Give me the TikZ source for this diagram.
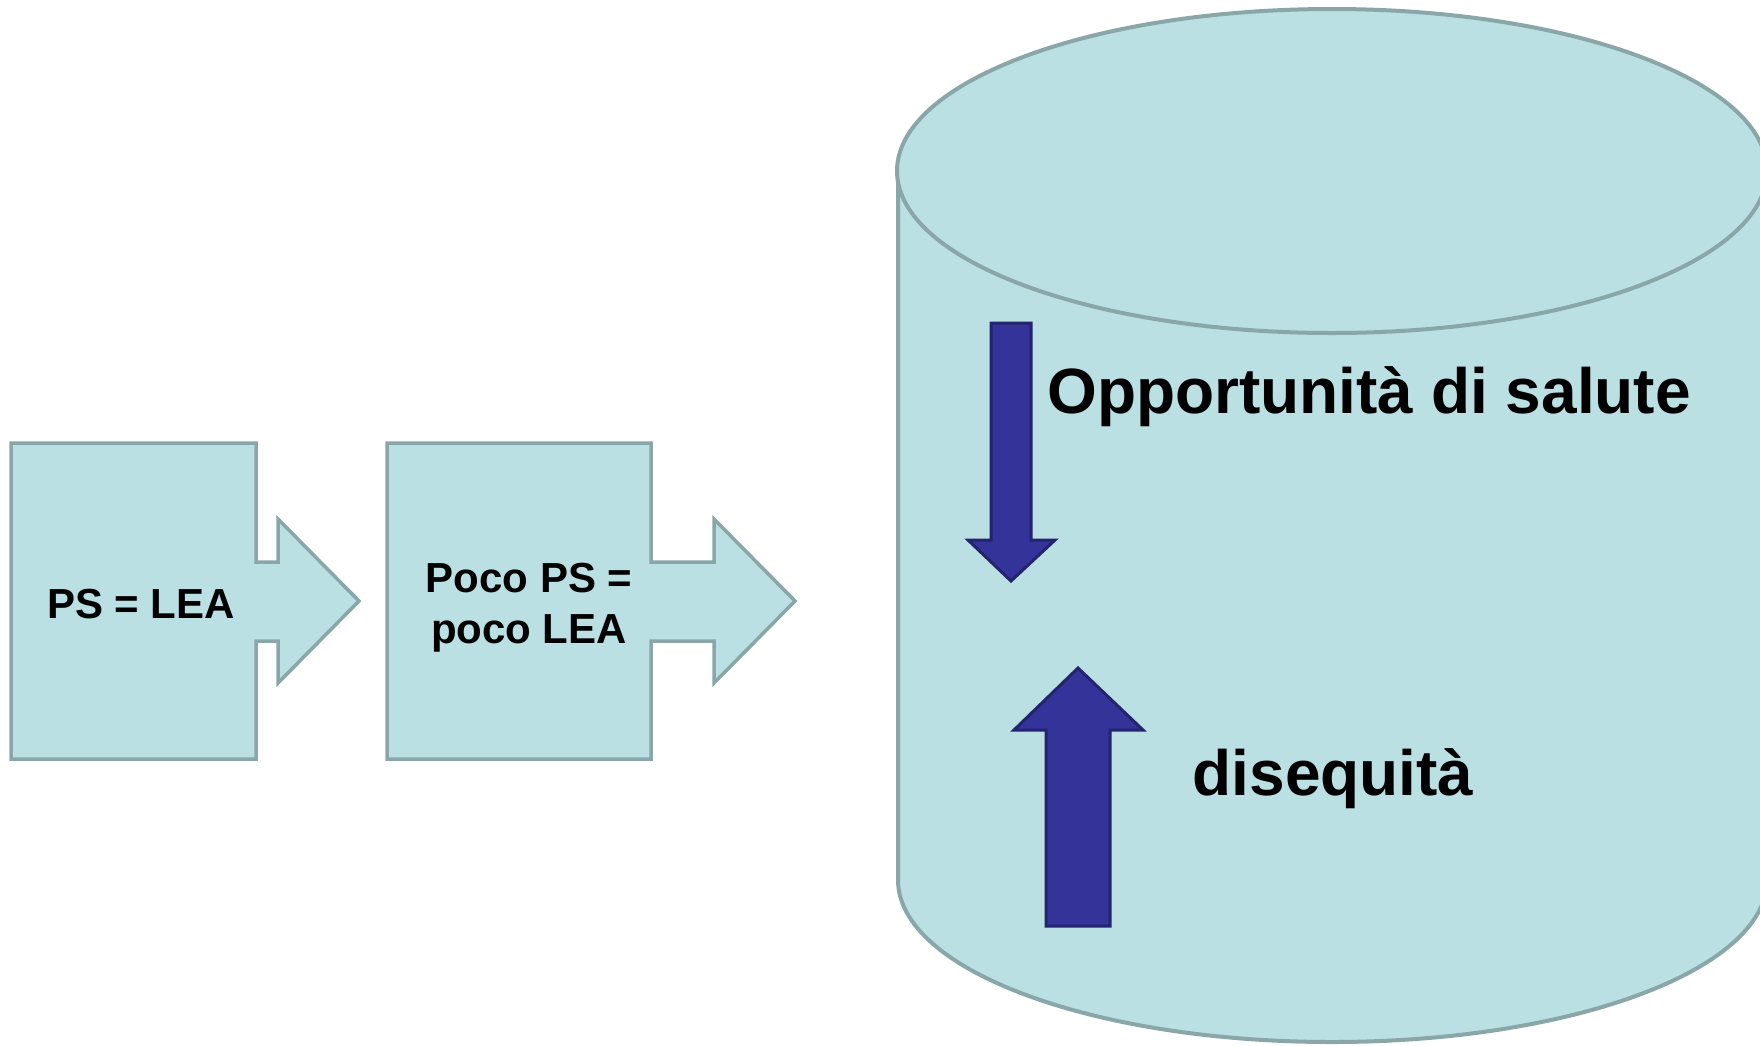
\documentclass[tikz,border=0pt]{standalone}
\usepackage{fontspec}
\setmainfont{Liberation Sans}
\definecolor{lblue}{RGB}{186,224,227}
\definecolor{edgegray}{RGB}{137,166,168}
\definecolor{navyfill}{RGB}{51,51,153}
\definecolor{navyedge}{RGB}{36,36,110}
\begin{document}
\begin{tikzpicture}[x=1pt,y=-1pt,
  shapebox/.style={fill=lblue,draw=edgegray,line width=3.5pt,line join=miter},
  cylline/.style={draw=edgegray,line width=4pt},
  bluearrow/.style={fill=navyfill,draw=navyedge,line width=3pt,line join=miter},
  lbl/.style={font=\bfseries\fontsize{42}{51}\selectfont,text=black,inner sep=0pt,align=center},
  biglbl/.style={font=\bfseries\fontsize{64}{70}\selectfont,text=black,inner sep=0pt}]
\path[use as bounding box] (0,0) rectangle (1760,1045);
\fill[white] (0,0) rectangle (1760,1045);
% arrow boxes
\draw[shapebox] (11,443) -- (256,443) -- (256,562) -- (278,562) -- (278,519) -- (359,601)
  -- (278,683) -- (278,641) -- (256,641) -- (256,759) -- (11,759) -- cycle;
\draw[shapebox] (387,443) -- (651,443) -- (651,562) -- (714,562) -- (714,519) -- (795,601)
  -- (714,683) -- (714,641) -- (651,641) -- (651,759) -- (387,759) -- cycle;
\node[lbl,anchor=base] (ps) at (141,618) {PS = LEA};
\node[lbl,anchor=base] (poco1) at (529,592) {Poco PS =};
\node[lbl,anchor=base] (poco2) at (529,643) {poco LEA};
% cylinder body
\draw[cylline,fill=lblue,line join=round] (898,171) -- (898,880)
  .. controls (898,969.5) and (1091.8,1042) .. (1332,1042)
  .. controls (1572.2,1042) and (1767,969.5) .. (1767,880)
  -- (1767,171) -- cycle;
\draw[cylline,fill=lblue] (1332,171) ellipse [x radius=435pt, y radius=162pt];
% blue arrows
\draw[bluearrow] (991,323) -- (1031,323) -- (1031,540) -- (1055,540) -- (1011,581)
  -- (968,540) -- (991,540) -- cycle;
\draw[bluearrow] (1046,926) -- (1110,926) -- (1110,730) -- (1143,730) -- (1078,668)
  -- (1014,730) -- (1046,730) -- cycle;
\node[biglbl,anchor=base] (opp) at (1369,413) {Opportunità di salute};
\node[biglbl,anchor=base] (dis) at (1333,795) {disequità};
\end{tikzpicture}
\end{document}
